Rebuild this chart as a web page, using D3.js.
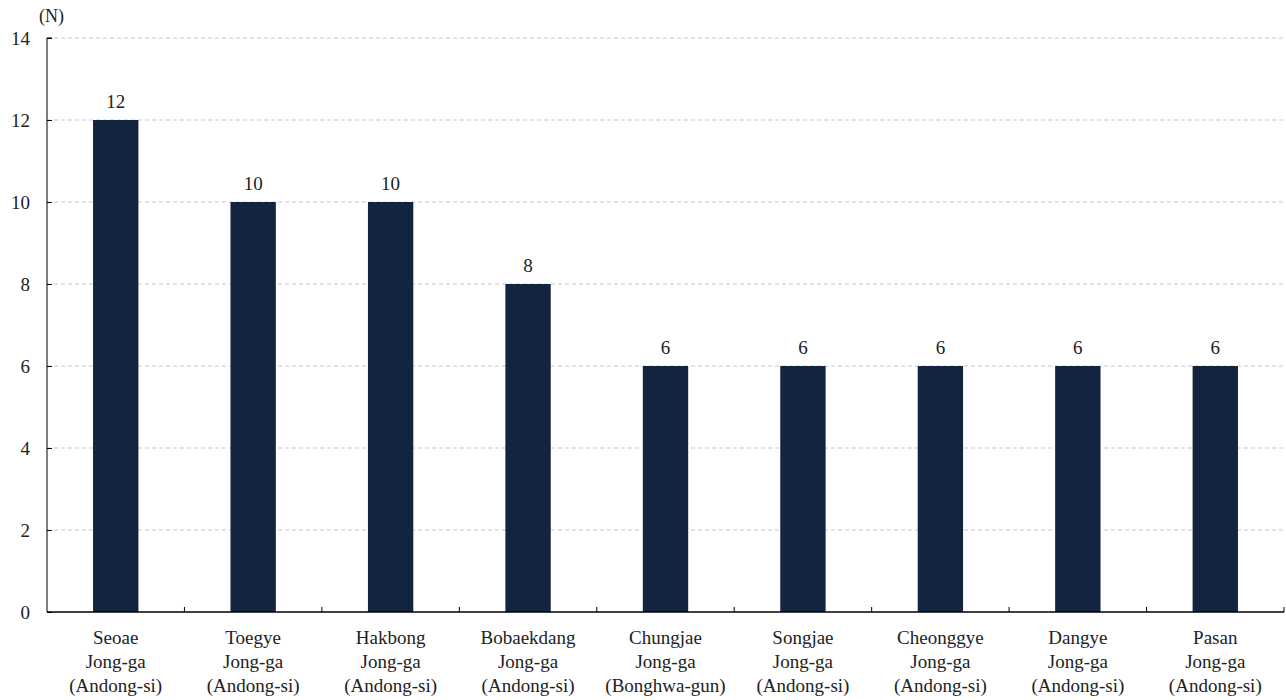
<!DOCTYPE html>
<html><head><meta charset="utf-8"><script src="https://cdn.jsdelivr.net/npm/d3@7"></script></head>
<body style="margin:0">
<svg id="chart" width="1286" height="700" font-family="Liberation Serif"></svg>
<script>
const categories = [
  ["Seoae", "Jong-ga", "(Andong-si)"],
  ["Toegye", "Jong-ga", "(Andong-si)"],
  ["Hakbong", "Jong-ga", "(Andong-si)"],
  ["Bobaekdang", "Jong-ga", "(Andong-si)"],
  ["Chungjae", "Jong-ga", "(Bonghwa-gun)"],
  ["Songjae", "Jong-ga", "(Andong-si)"],
  ["Cheonggye", "Jong-ga", "(Andong-si)"],
  ["Dangye", "Jong-ga", "(Andong-si)"],
  ["Pasan", "Jong-ga", "(Andong-si)"]
];
const counts = [12, 10, 10, 8, 6, 6, 6, 6, 6];
const yTicks = [0, 2, 4, 6, 8, 10, 12, 14];

const svg = d3.select("#chart");
const margin = { top: 38, right: 2, bottom: 88, left: 47 };
const width = 1286 - margin.left - margin.right,
  height = 700 - margin.top - margin.bottom;

// set the serif face on every text node
const serif = sel => sel
  .attr("font-family", "Liberation Serif")
  .style("font-family", "'Liberation Serif'");

const g = svg.append("g")
  .attr("transform", "translate(" + margin.left + "," + margin.top + ")");

const x = d3.scaleBand()
  .domain(d3.range(categories.length))
  .range([0, width])
  .paddingInner(0.67)
  .paddingOuter(0.335);

const y = d3.scaleLinear().domain([0, 14]).range([height, 0]);

// dashed gridlines
g.append("g")
  .selectAll("line")
  .data(yTicks.filter(d => d > 0))
  .join("line")
  .attr("x1", 0)
  .attr("x2", width)
  .attr("y1", d => y(d))
  .attr("y2", d => y(d))
  .attr("stroke", "#c8c8c8")
  .attr("stroke-width", 1)
  .attr("stroke-dasharray", "4,3");

// bars
g.selectAll(".bar")
  .data(counts)
  .join("rect")
  .attr("class", "bar")
  .attr("x", (d, i) => x(i))
  .attr("y", d => y(d))
  .attr("width", x.bandwidth())
  .attr("height", d => height - y(d))
  .attr("fill", "#12243f");

// value labels
g.selectAll(".val")
  .data(counts)
  .join("text")
  .attr("class", "val")
  .attr("x", (d, i) => x(i) + x.bandwidth() / 2)
  .attr("y", d => y(d) - 12)
  .attr("text-anchor", "middle")
  .attr("font-size", 19)
  .attr("fill", "#222")
  .call(serif)
  .text(d => d);

// y axis
const yAxis = g.append("g")
  .call(d3.axisLeft(y).tickValues(yTicks).tickSize(-5).tickPadding(17))
  .call(serif);
yAxis.select(".domain").attr("d", "M0," + height + "V0h5").attr("stroke", "#000");
yAxis.selectAll("text")
  .attr("font-size", 19)
  .attr("fill", "#222")
  .call(serif);

// x axis, small ticks between categories
const xAxis = g.append("g").attr("transform", "translate(0," + height + ")");
xAxis.append("line")
  .attr("x1", 0).attr("x2", width)
  .attr("stroke", "#000").attr("stroke-width", 1.5);
const step = x.step();
xAxis.selectAll(".sep")
  .data(d3.range(1, categories.length + 1))
  .join("line")
  .attr("class", "sep")
  .attr("x1", i => x(0) - x.paddingOuter() * step + i * step)
  .attr("x2", i => x(0) - x.paddingOuter() * step + i * step)
  .attr("y1", 0).attr("y2", -5)
  .attr("stroke", "#000");

const labels = xAxis.selectAll(".xl")
  .data(categories)
  .join("text")
  .attr("class", "xl")
  .attr("text-anchor", "middle")
  .attr("font-size", 19)
  .attr("fill", "#222")
  .call(serif)
  .attr("transform", (d, i) => "translate(" + (x(i) + x.bandwidth() / 2) + ",0)");
labels.selectAll("tspan")
  .data(d => d)
  .join("tspan")
  .attr("x", 0)
  .attr("y", (d, i) => 32 + i * 24)
  .text(d => d);

// unit label
svg.append("text")
  .attr("x", 39)
  .attr("y", 22)
  .attr("font-size", 18)
  .attr("fill", "#222")
  .call(serif)
  .text("(N)");
</script>
</body>
</html>
